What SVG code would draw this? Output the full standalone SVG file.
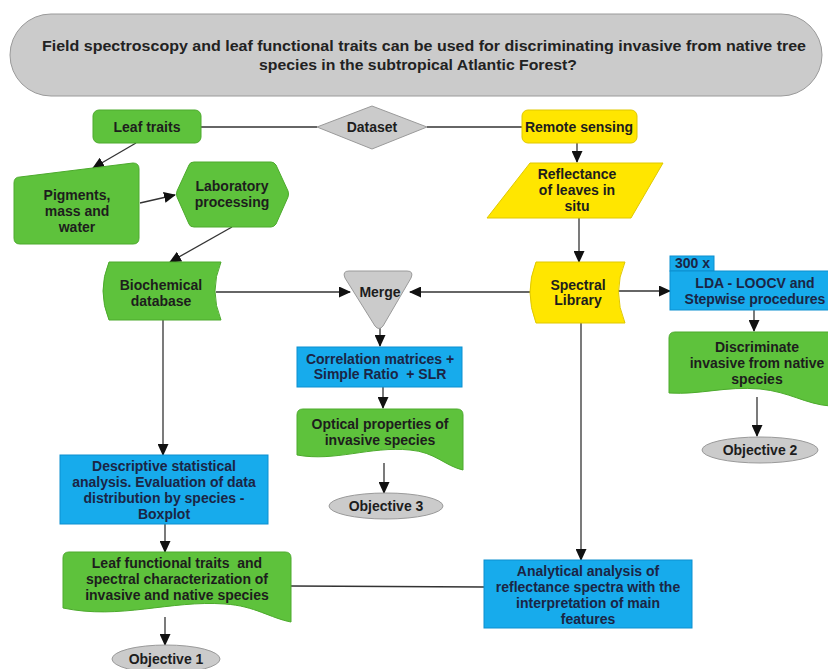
<svg xmlns="http://www.w3.org/2000/svg" width="828" height="669" viewBox="0 0 828 669">
<defs>
<marker id="ah" markerWidth="12" markerHeight="11" refX="11" refY="5.5" orient="auto" markerUnits="userSpaceOnUse">
<path d="M0,0 L12,5.5 L0,11 Z" fill="#111"/>
</marker>
<style>
text{font-family:"Liberation Sans",Arial,sans-serif;font-weight:bold;font-size:14px;fill:#1d1d1d;text-anchor:middle}
.t{font-size:15.5px;fill:#222}
.bt{fill:#1b2545}
.pre{white-space:pre}
.g{fill:#5ec23c;stroke:#4caa2c;stroke-width:1}
.y{fill:#ffe600;stroke:#e0c800;stroke-width:1}
.b{fill:#17abec;stroke:#0c8fd0;stroke-width:1}
.gr{fill:#cbcbcb;stroke:#9a9a9a;stroke-width:1}
.c{stroke:#333;stroke-width:1.3;fill:none}
.ca{stroke:#333;stroke-width:1.3;fill:none;marker-end:url(#ah)}
</style>
</defs>
<rect width="828" height="669" fill="#ffffff"/>

<g id="connectors">
<line class="c" x1="201" y1="127" x2="317" y2="127"/>
<line class="c" x1="427" y1="127" x2="522" y2="127"/>
<line class="ca" x1="136" y1="143" x2="93" y2="168"/>
<line class="ca" x1="140" y1="203" x2="175" y2="195"/>
<line class="ca" x1="232" y1="227" x2="170" y2="262"/>
<line class="ca" x1="577" y1="143" x2="577" y2="162"/>
<line class="ca" x1="579" y1="218" x2="579" y2="262"/>
<line class="ca" x1="216" y1="292" x2="350" y2="292"/>
<line class="ca" x1="534" y1="292" x2="410" y2="292"/>
<line class="ca" x1="616" y1="291" x2="670" y2="291"/>
<line class="ca" x1="380" y1="328" x2="380" y2="346"/>
<line class="ca" x1="383" y1="387" x2="383" y2="408"/>
<line class="ca" x1="384" y1="463" x2="384" y2="493"/>
<line class="ca" x1="754" y1="310" x2="754" y2="331"/>
<line class="ca" x1="757" y1="397" x2="757" y2="436"/>
<line class="ca" x1="163" y1="320" x2="163" y2="455"/>
<line class="ca" x1="165" y1="524" x2="165" y2="552"/>
<line class="ca" x1="165" y1="617" x2="165" y2="645"/>
<line class="ca" x1="581" y1="323" x2="581" y2="560"/>
<line class="c" x1="291" y1="586" x2="484" y2="587"/>
</g>

<g id="title">
<rect class="gr" x="10" y="14" width="812" height="82" rx="41"/>
<text class="t" x="424" y="51" textLength="764" lengthAdjust="spacingAndGlyphs">Field spectroscopy and leaf functional traits can be used for discriminating invasive from native tree</text>
<text class="t" x="418" y="70" textLength="318" lengthAdjust="spacingAndGlyphs">species in the subtropical Atlantic Forest?</text>
</g>

<g id="leaf-traits">
<rect class="g" x="93" y="110" width="108" height="33" rx="6"/>
<text x="147" y="132">Leaf traits</text>
</g>

<g id="dataset">
<polygon class="gr" points="317,127 372,106 427,127 372,149"/>
<text x="372" y="132">Dataset</text>
</g>

<g id="remote-sensing">
<rect class="y" x="522" y="110" width="115" height="33" rx="6"/>
<text x="579" y="132">Remote sensing</text>
</g>

<g id="pigments">
<path class="g" d="M20,177 L133,163 Q139,163 139,169 L139,238 Q139,244 133,244 L20,244 Q14,244 14,238 L14,183 Q14,177 20,177 Z"/>
<text x="77" y="200">Pigments,</text>
<text x="77" y="216">mass and</text>
<text x="77" y="232">water</text>
</g>

<g id="laboratory">
<path class="g" d="M177,191 L189,165 Q190,162 194,162 L271,162 Q274,162 276,165 L288,191 Q289,194 288,197 L276,224 Q274,227 271,227 L194,227 Q190,227 189,224 L177,197 Q176,194 177,191 Z"/>
<text x="232" y="191">Laboratory</text>
<text x="232" y="207">processing</text>
</g>

<g id="biochemical">
<path class="g" d="M109,262 L221,262 Q209,291 221,320 L109,320 Q97,291 109,262 Z"/>
<text x="161" y="290">Biochemical</text>
<text x="161" y="306">database</text>
</g>

<g id="merge">
<path class="gr" d="M349,271 L407,271 Q414,271 411,278 L383,326 Q379,331 375,326 L345,278 Q342,271 349,271 Z"/>
<text x="380" y="297">Merge</text>
</g>

<g id="reflectance">
<polygon class="y" points="530,163 663,163 631,218 487,218"/>
<text x="577" y="179">Reflectance</text>
<text x="577" y="195">of leaves in</text>
<text x="577" y="211">situ</text>
</g>

<g id="spectral-library">
<path class="y" d="M536,262 L625,262 Q612,292 625,323 L536,323 Q524,292 536,262 Z"/>
<text x="578" y="290">Spectral</text>
<text x="578" y="305">Library</text>
</g>

<g id="lda">
<rect class="b" x="670" y="256" width="44" height="15"/>
<text x="675" y="268" class="bt" style="text-anchor:start">300 x</text>
<rect class="b" x="670" y="271" width="160" height="39"/>
<text class="bt" x="755" y="288">LDA - LOOCV and</text>
<text class="bt" x="755" y="304">Stepwise procedures</text>
</g>

<g id="discriminate">
<path class="g" d="M675,332 L830,332 L830,406 C805,404 790,392 760,389 C725,386 700,395 669,393 L669,338 Q669,332 675,332 Z"/>
<text x="757" y="352">Discriminate</text>
<text x="757" y="368">invasive from native</text>
<text x="757" y="384">species</text>
</g>

<g id="objective-2">
<ellipse class="gr" cx="760" cy="450" rx="58" ry="13"/>
<text x="760" y="455">Objective 2</text>
</g>

<g id="correlation">
<rect class="b" x="297" y="347" width="165" height="40"/>
<text class="bt" x="380" y="364">Correlation matrices +</text>
<text class="bt pre" x="380" y="379">Simple Ratio  + SLR</text>
</g>

<g id="optical">
<path class="g" d="M303,409 L457,409 Q463,409 463,415 L463,470 C445,466 435,452 410,450 C370,446 335,462 297,455 L297,415 Q297,409 303,409 Z"/>
<text x="380" y="429">Optical properties of</text>
<text x="380" y="445">invasive species</text>
</g>

<g id="objective-3">
<ellipse class="gr" cx="386" cy="506" rx="57" ry="13"/>
<text x="386" y="511">Objective 3</text>
</g>

<g id="descriptive">
<rect class="b" x="60" y="455" width="208" height="69"/>
<text class="bt" x="164" y="471">Descriptive statistical</text>
<text class="bt" x="164" y="487">analysis. Evaluation of data</text>
<text class="bt" x="164" y="503">distribution by species -</text>
<text class="bt" x="164" y="519">Boxplot</text>
</g>

<g id="leaf-functional">
<path class="g" d="M69,552 L285,552 Q291,552 291,558 L291,622 C270,618 255,606 225,604 C170,600 120,620 63,608 L63,558 Q63,552 69,552 Z"/>
<text class="pre" x="177" y="568">Leaf functional traits  and</text>
<text x="177" y="584">spectral characterization of</text>
<text x="177" y="600">invasive and native species</text>
</g>

<g id="objective-1">
<ellipse class="gr" cx="166" cy="659" rx="54" ry="14"/>
<text x="166" y="664">Objective 1</text>
</g>

<g id="analytical">
<rect class="b" x="484" y="560" width="208" height="68"/>
<text class="bt" x="588" y="576">Analytical analysis of</text>
<text class="bt" x="588" y="592">reflectance spectra with the</text>
<text class="bt" x="588" y="608">interpretation of main</text>
<text class="bt" x="588" y="624">features</text>
</g>
</svg>
